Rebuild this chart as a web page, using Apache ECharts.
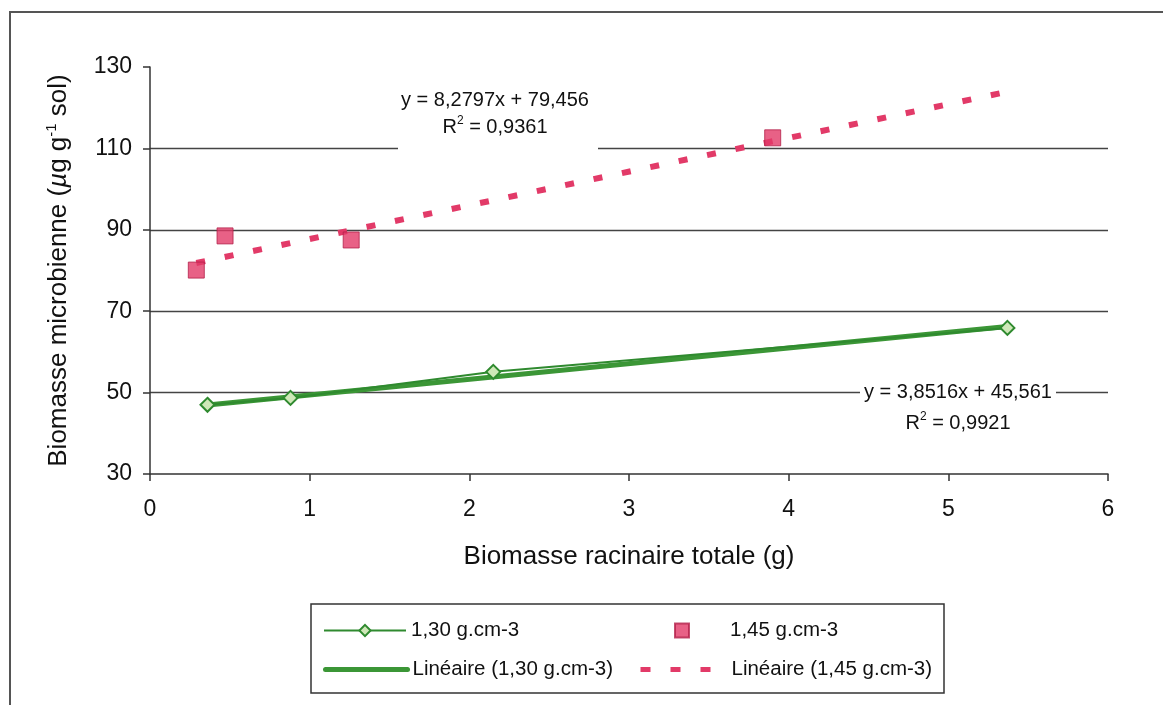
<!DOCTYPE html>
<html>
<head>
<meta charset="utf-8">
<title>Biomasse microbienne</title>
<script src="https://cdn.jsdelivr.net/npm/echarts@6/dist/echarts.min.js"></script>
<style>
  html, body { margin: 0; padding: 0; background: #ffffff; }
  #chart { width: 1163px; height: 705px; }
</style>
</head>
<body>
<div id="chart"></div>
<script>
// valeurs
const xLow = [0.36, 0.88, 2.15, 5.37]      // 1,30 g.cm-3
const yLow = [47.0, 48.7, 55.1, 65.9]
const xHigh = [0.29, 0.47, 1.26, 3.9]      // 1,45 g.cm-3
const yHigh = [80.1, 88.5, 87.5, 112.6]

// coefficients des droites de tendance
const slopeLow = 3.8516
const interceptLow = 45.561
const slopeHigh = 8.2797
const interceptHigh = 79.456

const xTicks = [0, 1, 2, 3, 4, 5, 6]
const yTicks = [30, 50, 70, 90, 110, 130]

const nameLow = '1,30 g.cm-3'
const nameHigh = '1,45 g.cm-3'
const nameLowFit = 'Linéaire (1,30 g.cm-3)'
const nameHighFit = 'Linéaire (1,45 g.cm-3)'

const FONT = '"Liberation Sans", Arial, sans-serif'
const GREEN = '#3b9636'
const PINK = '#e23a68'

const pairs = (xs, ys) => xs.map((x, i) => [x, ys[i]])
const xEnd = Math.max(...xLow, ...xHigh)
const fitLine = (xs, a, b) => {
  const x0 = Math.min(...xs)
  return [[x0, a * x0 + b], [xEnd, a * xEnd + b]]
}

const chart = echarts.init(document.getElementById('chart'))

const legendText = { fontFamily: FONT, fontSize: 20.5, color: '#111' }
const legendBase = {
  orient: 'horizontal',
  padding: 0,
  itemWidth: 82,
  itemHeight: 14,
  itemGap: 0,
  selectedMode: false,
  textStyle: legendText
}

chart.setOption({
  animation: false,
  backgroundColor: '#ffffff',
  grid: { // zone de tracé
    left: 150,
    right: 55,
    top: 67,
    bottom: 231
  },
  legend: [
    Object.assign({}, legendBase, { data: [nameLow], left: 323, top: 620 }),
    Object.assign({}, legendBase, {
      data: [nameHigh],
      left: 674,
      top: 620,
      itemWidth: 14,
      textStyle: Object.assign({}, legendText, { padding: [0, 0, 0, 36] })
    }),
    Object.assign({}, legendBase, {
      data: [nameLowFit],
      left: 323,
      top: 659,
      itemStyle: { opacity: 0 },
      lineStyle: { width: 5, color: GREEN }
    }),
    Object.assign({}, legendBase, {
      data: [nameHighFit],
      left: 638,
      top: 659,
      itemWidth: 86,
      itemStyle: { opacity: 0 },
      lineStyle: { width: 5, color: PINK, type: [10, 20] }
    })
  ],
  xAxis: {
    type: 'value',
    min: xTicks[0],
    max: xTicks[xTicks.length - 1],
    interval: 1,
    name: 'Biomasse racinaire totale (g)',
    nameLocation: 'middle',
    nameGap: 70,
    nameTextStyle: { fontFamily: FONT, fontSize: 26, color: '#111' },
    axisLine: { lineStyle: { color: '#333', width: 1.5 } },
    axisTick: { show: true, length: 7, lineStyle: { color: '#333', width: 1.5 } },
    axisLabel: { fontFamily: FONT, fontSize: 23, color: '#111', margin: 24 },
    splitLine: { show: false }
  },
  yAxis: {
    type: 'value',
    min: yTicks[0],
    max: yTicks[yTicks.length - 1],
    interval: 20,
    name: '{n|Biomasse microbienne (}{m|µ}{n|g g}{s|-1}{n| sol)}',
    nameLocation: 'middle',
    nameRotate: 90,
    nameGap: 76,
    nameTextStyle: {
      fontFamily: FONT,
      color: '#111',
      rich: {
        n: { fontFamily: FONT, fontSize: 26, lineHeight: 30, color: '#111' },
        m: { fontFamily: FONT, fontSize: 26, lineHeight: 30, fontStyle: 'italic', color: '#111' },
        s: { fontFamily: FONT, fontSize: 15, lineHeight: 18, verticalAlign: 'top', color: '#111' }
      }
    },
    axisLine: { show: true, lineStyle: { color: '#333', width: 1.5 } },
    axisTick: { show: true, length: 7, lineStyle: { color: '#333', width: 1.5 } },
    axisLabel: { fontFamily: FONT, fontSize: 23, color: '#111', margin: 18 },
    splitLine: {
      show: true,
      showMinLine: false,
      showMaxLine: false,
      lineStyle: { color: '#444', width: 1.3 }
    }
  },
  graphic: [
    { // cadre extérieur
      type: 'rect',
      silent: true,
      z: 0,
      shape: { x: 10, y: 12, width: 1200, height: 800 },
      style: { fill: 'none', stroke: '#555', lineWidth: 2 }
    },
    { // cadre de la légende
      type: 'rect',
      silent: true,
      z: 0,
      shape: { x: 311, y: 604, width: 633, height: 89 },
      style: { fill: 'none', stroke: '#333', lineWidth: 1.5 }
    },
    { // équation 1,45
      type: 'rect',
      silent: true,
      z: 10,
      shape: { x: 398, y: 82, width: 200, height: 72 },
      style: { fill: '#ffffff' }
    },
    {
      type: 'text',
      z: 11,
      x: 495,
      y: 100,
      style: {
        text: 'y = 8,2797x + 79,456',
        fontFamily: FONT, fontSize: 20, fill: '#111',
        align: 'center', verticalAlign: 'middle'
      }
    },
    {
      type: 'text',
      z: 11,
      x: 495,
      y: 127,
      style: {
        text: '{n|R}{s|2}{n| = 0,9361}',
        align: 'center', verticalAlign: 'middle',
        rich: {
          n: { fontFamily: FONT, fontSize: 20, lineHeight: 24, fill: '#111' },
          s: { fontFamily: FONT, fontSize: 12, lineHeight: 14, verticalAlign: 'top', fill: '#111' }
        }
      }
    },
    { // équation 1,30
      type: 'rect',
      silent: true,
      z: 10,
      shape: { x: 860, y: 378, width: 196, height: 62 },
      style: { fill: '#ffffff' }
    },
    {
      type: 'text',
      z: 11,
      x: 958,
      y: 392,
      style: {
        text: 'y = 3,8516x + 45,561',
        fontFamily: FONT, fontSize: 20, fill: '#111',
        align: 'center', verticalAlign: 'middle'
      }
    },
    {
      type: 'text',
      z: 11,
      x: 958,
      y: 423,
      style: {
        text: '{n|R}{s|2}{n| = 0,9921}',
        align: 'center', verticalAlign: 'middle',
        rich: {
          n: { fontFamily: FONT, fontSize: 20, lineHeight: 24, fill: '#111' },
          s: { fontFamily: FONT, fontSize: 12, lineHeight: 14, verticalAlign: 'top', fill: '#111' }
        }
      }
    }
  ],
  series: [
    { // droite de tendance 1,30
      name: nameLowFit,
      type: 'line',
      symbol: 'none',
      z: 2,
      lineStyle: { color: GREEN, width: 5, cap: 'round' },
      itemStyle: { color: GREEN },
      data: fitLine(xLow, slopeLow, interceptLow)
    },
    { // droite de tendance 1,45
      name: nameHighFit,
      type: 'line',
      symbol: 'none',
      z: 2,
      lineStyle: { color: PINK, width: 6, type: [9, 20], cap: 'butt' },
      itemStyle: { color: PINK },
      data: fitLine(xHigh, slopeHigh, interceptHigh)
    },
    {
      name: nameLow,
      type: 'line',
      symbol: 'diamond',
      symbolSize: 14,
      z: 3,
      lineStyle: { color: '#2f8a2f', width: 2 },
      itemStyle: { color: '#cfe8b8', borderColor: '#2f8a2f', borderWidth: 2 },
      data: pairs(xLow, yLow)
    },
    {
      name: nameHigh,
      type: 'scatter',
      symbol: 'rect',
      symbolSize: 16,
      z: 3,
      itemStyle: { color: PINK, borderColor: '#b3204a', borderWidth: 1 },
      data: pairs(xHigh, yHigh)
    }
  ]
})
</script>
</body>
</html>
